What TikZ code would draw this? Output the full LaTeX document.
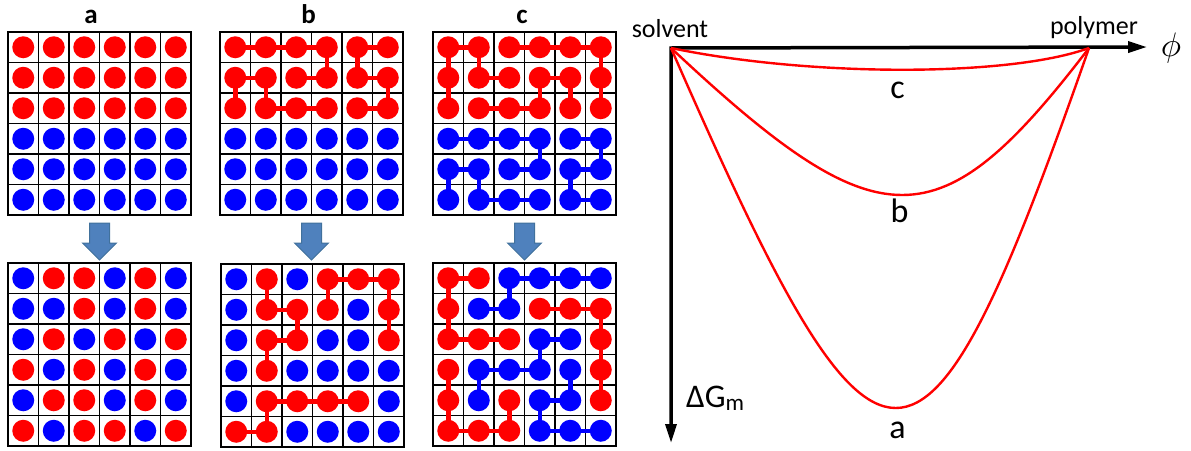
\documentclass[tikz,border=0pt]{standalone}
\usepackage{fontspec}
\setmainfont{Carlito}
\usepackage{tikz}
\usetikzlibrary{arrows.meta}
\definecolor{rd}{HTML}{FF0000}
\definecolor{bl}{HTML}{0000FF}
\definecolor{arrowfill}{HTML}{4F81BD}
\definecolor{arrowline}{HTML}{41719C}
% cell borders of one 6x6 lattice (cell centres at integer points)
\newcommand{\latticelines}{%
  \draw[gridline] (0.5,0.5) rectangle (6.5,6.5);
  \foreach \k in {1.5,2.5,...,5.5}
    {\draw[gridline] (\k,0.5) -- (\k,6.5); \draw[gridline] (0.5,\k) -- (6.5,\k);}}
% beads given row by row
\newcommand{\beads}[1]{%
  \foreach \row [count=\r] in {#1}
    \foreach \col [count=\c] in \row
      \fill[\col] (\c,\r) circle (11pt);}
% red upper half, blue lower half
\newcommand{\layered}{%
  \foreach \r/\col in {1/rd,2/rd,3/rd,4/bl,5/bl,6/bl}
    \foreach \c in {1,...,6}
      \fill[\col] (\c,\r) circle (11pt);}

\begin{document}
\begin{tikzpicture}[x=1pt,y=-1pt,
  lattice/.style={shift={#1},x=30.5pt,y=-30.5pt,shift={(-.5,-.5)}},
  gridline/.style={line width=1.8pt,black},
  bond/.style={line width=4.5pt},
  bigarrow/.style={fill=arrowfill,draw=arrowline,line width=1pt,line join=miter},
  axis/.style={line width=3.5pt,line join=miter,
    {Triangle[length=19pt,width=11pt]}-{Triangle[length=19pt,width=11pt]}},
  curve/.style={rd,line width=2.4pt},
  panel/.style={font=\fontsize{27}{30}\selectfont\bfseries,anchor=base,inner sep=0},
  axlabel/.style={font=\fontsize{26}{30}\selectfont,anchor=base,inner sep=0},
  curvelabel/.style={font=\fontsize{34}{40}\selectfont,anchor=base,inner sep=0}]
  \useasboundingbox (0,0) rectangle (1191,450);

  % panel letters
  \node[panel] (pa) at (91,23) {a};
  \node[panel] (pb) at (308.5,23) {b};
  \node[panel] (pc) at (522,23) {c};

  % a: before
  \begin{scope}[lattice={(8,32)}]
    \latticelines
    \layered
  \end{scope}
  % b: before
  \begin{scope}[lattice={(220,32)}]
    \latticelines
    \draw[bond,rd] (1,1) -- (2,1) -- (3,1) -- (4,1) -- (4,2) -- (3,2);
    \draw[bond,rd] (6,1) -- (5,1) -- (5,2) -- (6,2) -- (6,3) -- (5,3);
    \draw[bond,rd] (1,3) -- (1,2) -- (2,2) -- (2,3) -- (3,3) -- (4,3);
    \layered
  \end{scope}
  % c: before
  \begin{scope}[lattice={(433,32)}]
    \latticelines
    \draw[bond,rd] (1,3) -- (1,2) -- (1,1) -- (2,1) -- (2,2) -- (3,2);
    \draw[bond,rd] (3,1) -- (4,1) -- (5,1) -- (6,1) -- (6,2) -- (6,3);
    \draw[bond,rd] (5,3) -- (5,2) -- (4,2) -- (4,3) -- (3,3) -- (2,3);
    \draw[bond,bl] (1,4) -- (2,4) -- (3,4) -- (4,4) -- (4,5) -- (3,5);
    \draw[bond,bl] (5,4) -- (6,4) -- (6,5) -- (5,5) -- (5,6) -- (6,6);
    \draw[bond,bl] (1,6) -- (1,5) -- (2,5) -- (2,6) -- (3,6) -- (4,6);
    \layered
  \end{scope}

  % mixing arrows
  \foreach \ax in {99.5,311.5,524.5}
    \draw[bigarrow] (\ax-10,223) -- (\ax+10,223) -- (\ax+10,243) -- (\ax+17,243)
      -- (\ax,260) -- (\ax-17,243) -- (\ax-10,243) -- cycle;

  % a: after
  \begin{scope}[lattice={(8,263)}]
    \latticelines
    \beads{{bl,rd,rd,bl,rd,bl},{bl,bl,rd,bl,rd,bl},{bl,rd,bl,rd,bl,rd},
           {rd,bl,rd,bl,rd,bl},{bl,rd,rd,bl,rd,bl},{rd,bl,rd,rd,bl,rd}}
  \end{scope}
  % b: after
  \begin{scope}[lattice={(221,264)}]
    \latticelines
    \draw[bond,rd] (2,1) -- (2,2) -- (3,2) -- (3,3) -- (2,3) -- (2,4);
    \draw[bond,rd] (4,2) -- (4,1) -- (5,1) -- (6,1) -- (6,2) -- (6,3);
    \draw[bond,rd] (1,6) -- (2,6) -- (2,5) -- (3,5) -- (4,5) -- (5,5);
    \beads{{bl,rd,bl,rd,rd,rd},{bl,rd,rd,rd,bl,rd},{bl,rd,rd,bl,bl,rd},
           {bl,rd,bl,bl,bl,bl},{bl,rd,rd,rd,rd,bl},{rd,rd,bl,bl,bl,bl}}
  \end{scope}
  % c: after
  \begin{scope}[lattice={(433,263)}]
    \latticelines
    \draw[bond,rd] (2,1) -- (1,1) -- (1,2) -- (1,3) -- (2,3) -- (3,3);
    \draw[bond,rd] (4,2) -- (5,2) -- (6,2) -- (6,3) -- (6,4) -- (6,5);
    \draw[bond,rd] (1,4) -- (1,5) -- (1,6) -- (2,6) -- (3,6) -- (3,5);
    \draw[bond,bl] (6,1) -- (5,1) -- (4,1) -- (3,1) -- (3,2) -- (2,2);
    \draw[bond,bl] (5,3) -- (4,3) -- (4,4) -- (3,4) -- (2,4) -- (2,5);
    \draw[bond,bl] (5,4) -- (5,5) -- (4,5) -- (4,6) -- (5,6) -- (6,6);
    \beads{{rd,rd,bl,bl,bl,bl},{rd,bl,bl,rd,rd,rd},{rd,rd,rd,bl,bl,rd},
           {rd,bl,bl,bl,bl,rd},{rd,bl,rd,bl,bl,rd},{rd,rd,rd,bl,bl,bl}}
  \end{scope}

  % free energy of mixing
  \coordinate (O) at (671,48);
  \coordinate (xend) at (1147,47);
  \coordinate (yend) at (671,443);
  \coordinate (poly) at (1089,48);
  \draw[axis] (xend) -- (O) -- (yend);
  \node[axlabel] (solv) at (670,37) {solvent};
  \node[axlabel] (polym) at (1094,34) {polymer};
  \node[scale=3.4,inner sep=0] (phi) at (1171,48) {$\phi$};
  \node[axlabel,anchor=base west,font=\fontsize{33}{38}\selectfont] (dg) at (686,407)
    {ΔG\textsubscript{m}};
  % curves a, b, c
  \draw[curve] (O) .. controls (881,528) and (921,528) .. (poly);
  \draw[curve] (O) .. controls (880,244) and (939,244) .. (poly);
  \draw[curve] (O) .. controls (810,77) and (1010,77) .. (poly);
  \node[curvelabel] (lc) at (897.5,98) {c};
  \node[curvelabel] (lb) at (899.5,222) {b};
  \node[curvelabel] (la) at (897.5,438) {a};
\end{tikzpicture}
\end{document}
